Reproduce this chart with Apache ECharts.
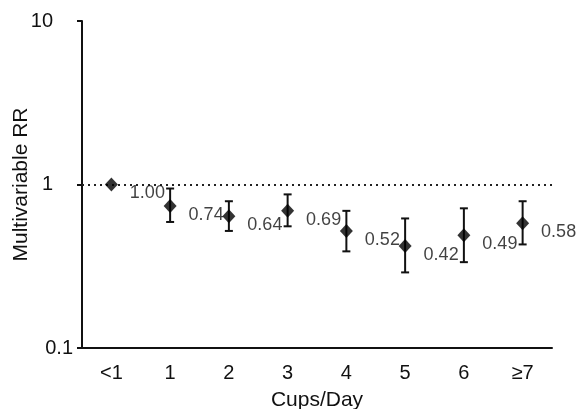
<!DOCTYPE html>
<html>
<head>
<meta charset="utf-8">
<script src="https://cdn.jsdelivr.net/npm/echarts@6/dist/echarts.min.js"></script>
<style>
  html, body { margin: 0; padding: 0; background: #fff; }
  #chart { width: 576px; height: 409px; }
</style>
</head>
<body>
<div id="chart"></div>
<script>
var categories = ['<1', '1', '2', '3', '4', '5', '6', '≥7'];
var rr = [1.00, 0.74, 0.64, 0.69, 0.52, 0.42, 0.49, 0.58];
var ciLow = [null, 0.59, 0.52, 0.555, 0.39, 0.29, 0.335, 0.43];
var ciHigh = [null, 0.945, 0.79, 0.87, 0.69, 0.62, 0.715, 0.79];

var font = 'Liberation Sans, Arial, sans-serif';

var errData = [];
for (var i = 0; i < categories.length; i++) {
  if (ciLow[i] != null) errData.push([i, ciLow[i], ciHigh[i]]);
}

var myChart = echarts.init(document.getElementById('chart'));

var option = {
  animation: false,
  grid: { left: 82, right: 24, top: 21, bottom: 61, outerBoundsMode: 'none', containLabel: false },
  xAxis: {
    type: 'category',
    data: categories,
    name: 'Cups/Day',
    nameLocation: 'middle',
    nameGap: 42,
    nameMoveOverlap: false,
    nameTextStyle: { fontFamily: font, fontSize: 21, color: '#111' },
    axisLine: { lineStyle: { color: '#111', width: 2 } },
    axisTick: { length: 5, lineStyle: { color: '#111', width: 2 } },
    axisLabel: { fontFamily: font, fontSize: 20, color: '#111', margin: 15 },
    splitLine: { show: false }
  },
  yAxis: {
    type: 'log',
    logBase: 10,
    min: 0.1,
    max: 10,
    name: 'Multivariable RR',
    nameLocation: 'middle',
    nameGap: 50,
    nameMoveOverlap: false,
    nameTextStyle: { fontFamily: font, fontSize: 21, color: '#111' },
    axisLine: { show: true, lineStyle: { color: '#111', width: 2 } },
    axisTick: { show: true, length: 5, lineStyle: { color: '#111', width: 2 } },
    axisLabel: {
      fontFamily: font, fontSize: 20, color: '#111', margin: 9,
      formatter: function (v) {
        return v < 0.5 ? '{n|' + v + '}' : '{p|' + v + '}';
      },
      rich: {
        n: { fontFamily: font, fontSize: 20, color: '#111' },
        p: { fontFamily: font, fontSize: 20, color: '#111', padding: [0, 20, 0, 0] }
      }
    },
    splitLine: { show: false }
  },
  series: [
    {
      type: 'custom',
      data: errData,
      z: 3,
      renderItem: function (params, api) {
        var x = api.value(0);
        var lo = api.coord([x, api.value(1)]);
        var hi = api.coord([x, api.value(2)]);
        var hw = 4;
        var style = { stroke: '#111', lineWidth: 2 };
        return {
          type: 'group',
          children: [
            { type: 'line', shape: { x1: lo[0], y1: lo[1], x2: hi[0], y2: hi[1] }, style: style },
            { type: 'line', shape: { x1: lo[0] - hw, y1: lo[1], x2: lo[0] + hw, y2: lo[1] }, style: style },
            { type: 'line', shape: { x1: hi[0] - hw, y1: hi[1], x2: hi[0] + hw, y2: hi[1] }, style: style }
          ]
        };
      }
    },
    {
      type: 'scatter',
      data: rr,
      symbol: 'diamond',
      symbolSize: [13, 14],
      z: 5,
      itemStyle: { color: '#000' },
      label: {
        show: true,
        position: 'inside',
        offset: [36, 9],
        fontFamily: font,
        fontSize: 18,
        color: '#111',
        formatter: function (p) { return p.value.toFixed(2); }
      },
      markLine: {
        silent: true,
        symbol: 'none',
        label: { show: false },
        lineStyle: { color: '#222', width: 2, type: [2, 4] },
        data: [{ yAxis: 1 }]
      }
    }
  ]
};

option && myChart.setOption(option);
</script>
</body>
</html>
